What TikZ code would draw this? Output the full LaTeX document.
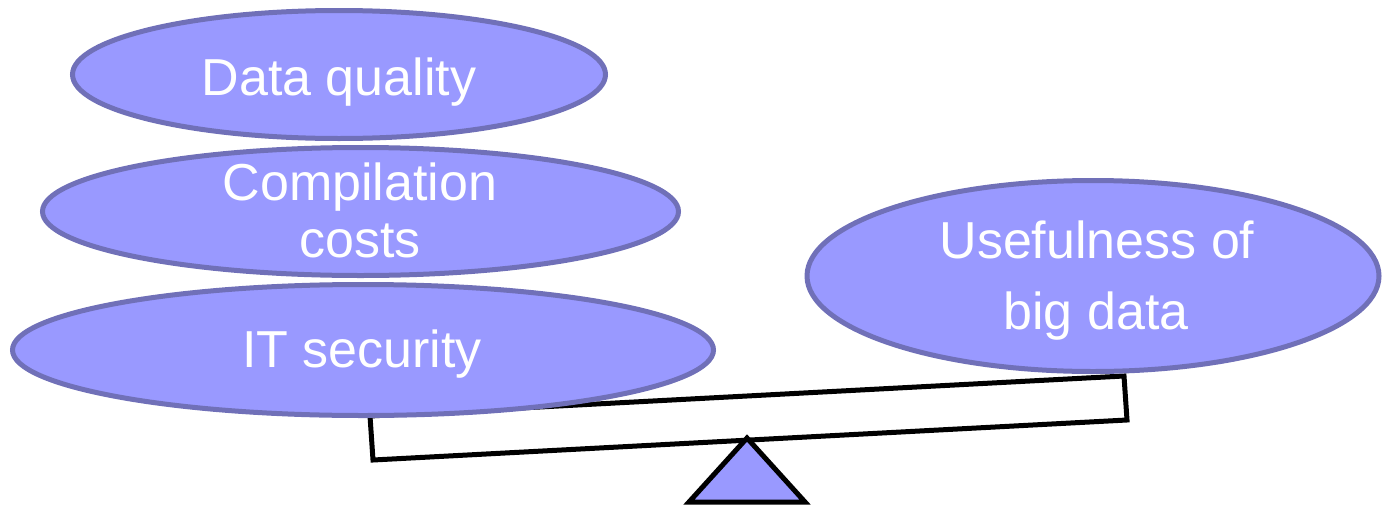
\documentclass[tikz,border=0pt]{standalone}
\usepackage{fontspec}
\setmainfont{Liberation Sans}
\usetikzlibrary{shapes.geometric}
\definecolor{blobfill}{HTML}{9999FF}
\definecolor{blobline}{HTML}{7070B8}
\tikzset{
  blob/.style={ellipse, draw=blobline, fill=blobfill, line width=5pt, inner sep=0pt},
  lbl/.style={text=white, font=\fontsize{52pt}{60pt}\selectfont, anchor=base, inner sep=0pt},
  beam/.style={draw=black, line width=5pt, line join=miter},
}
\begin{document}
\begin{tikzpicture}[x=1pt,y=-1pt]
\useasboundingbox (0,0) rectangle (1383,506);
% seesaw beam
\coordinate (tl) at (370,416);
\coordinate (tr) at (1124,376);
\coordinate (br) at (1127,420);
\coordinate (bl) at (373,460);
\draw[beam] (tl) -- (tr) -- (br) -- (bl) -- cycle;
% fulcrum
\coordinate (apex) at (747,438);
\coordinate (fl) at (689,502);
\coordinate (fr) at (805,502);
\draw[beam, fill=blobfill] (apex) -- (fl) -- (fr) -- cycle;
% ellipses
\node[blob, minimum width=533pt, minimum height=128pt] (dq) at (339,74.5) {};
\node[blob, minimum width=636pt, minimum height=128pt] (cc) at (360.5,211.5) {};
\node[blob, minimum width=701pt, minimum height=131pt] (it) at (363,350) {};
\node[blob, minimum width=572pt, minimum height=191pt] (us) at (1093,276) {};
% labels
\node[lbl] (dqt) at (339,95) {Data quality};
\node[lbl] (cct1) at (360,200) {Compilation};
\node[lbl] (cct2) at (360,257) {costs};
\node[lbl] (itt) at (362,367) {IT security};
\node[lbl] (ust1) at (1097,258) {Usefulness of};
\node[lbl] (ust2) at (1096,329) {big data};
\end{tikzpicture}
\end{document}
